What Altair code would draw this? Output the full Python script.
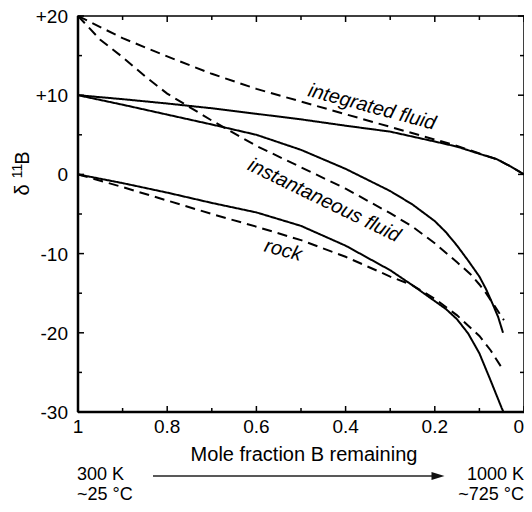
import altair as alt
import pandas as pd

# ---- data ----
# integrated fluid
int_solid_x = [1.0, 0.9, 0.8, 0.7, 0.6, 0.5, 0.4, 0.3, 0.2, 0.15, 0.1, 0.06, 0.03, 0.0]
int_solid_y = [10, 9.5, 8.95, 8.35, 7.65, 6.95, 6.15, 5.4, 4.15, 3.5, 2.6, 1.9, 1.0, 0]
int_dash_x = [1.0, 0.9, 0.8, 0.7, 0.6, 0.5, 0.4, 0.3, 0.2, 0.15, 0.1, 0.06, 0.03, 0.0]
int_dash_y = [20, 17.2, 14.9, 12.7, 10.8, 9.2, 7.6, 6.0, 4.4, 3.6, 2.65, 1.9, 1.0, 0]
# instantaneous fluid
ins_solid_x = [1.0, 0.9, 0.8, 0.7, 0.6, 0.5, 0.4, 0.3, 0.25, 0.2, 0.175, 0.15, 0.125,
               0.1, 0.085, 0.07, 0.058, 0.047]
ins_solid_y = [10, 8.8, 7.55, 6.3, 5.0, 3.1, 0.7, -2.1, -3.8, -5.9, -7.3, -9.0, -10.9,
               -12.9, -14.5, -16.4, -18.0, -20.0]
ins_dash_x = [1.0, 0.95, 0.9, 0.85, 0.8, 0.7, 0.6, 0.5, 0.4, 0.3, 0.25, 0.2, 0.15, 0.12,
              0.1, 0.085, 0.065, 0.045]
ins_dash_y = [20, 17.0, 14.8, 12.4, 10.2, 6.8, 3.6, 0.9, -1.8, -4.9, -6.6, -8.7, -11.1,
              -12.6, -13.9, -15.0, -16.7, -18.4]
# rock
rock_solid_x = [1.0, 0.9, 0.8, 0.7, 0.6, 0.5, 0.4, 0.3, 0.25, 0.2, 0.175, 0.15, 0.125,
                0.1, 0.075, 0.05, 0.046]
rock_solid_y = [0, -1.1, -2.3, -3.6, -4.8, -6.5, -9.0, -12.1, -14.0, -16.0, -17.0, -18.3,
                -20.1, -22.6, -26.0, -29.5, -30.0]
rock_dash_x = [1.0, 0.9, 0.8, 0.7, 0.6, 0.5, 0.4, 0.3, 0.25, 0.2, 0.15, 0.1, 0.075, 0.05]
rock_dash_y = [0, -1.6, -3.3, -5.0, -6.6, -8.3, -10.4, -12.9, -14.0, -15.7, -17.8, -20.4,
               -22.2, -24.4]

curve_labels = ["integrated fluid", "instantaneous fluid", "rock"]
curve_label_x = [0.341, 0.448, 0.540]
curve_label_y = [8.5, -3.3, -9.6]
curve_label_angle = [15, 26, 15]

x_label_values = [1, 0.8, 0.6, 0.4, 0.2]
x_label_text = ["1", "0.8", "0.6", "0.4", "0.2"]
x_last_value = [0]
x_last_text = ["0"]
y_label_values = [20, 10, 0, -10, -20, -30]
y_label_text = ["+20", "+10", "0", "-10", "-20", "-30"]
x_major_ticks = [0, 0.2, 0.4, 0.6, 0.8, 1.0]
x_minor_ticks = [0.1, 0.3, 0.5, 0.7, 0.9]
y_major_ticks = [-30, -20, -10, 0, 10, 20]
y_minor_ticks = [-25, -15, -5, 5, 15]

y_title_parts = ["δ", "11", "B"]
x_title = "Mole fraction B remaining"
annot_left = ["300 K", "~25 °C"]
annot_right = ["1000 K", "~725 °C"]

# ---- build tables ----
rows = []
for name, style, xs, ys in [
    ("integrated", "solid", int_solid_x, int_solid_y),
    ("integrated", "dashed", int_dash_x, int_dash_y),
    ("instantaneous", "solid", ins_solid_x, ins_solid_y),
    ("instantaneous", "dashed", ins_dash_x, ins_dash_y),
    ("rock", "solid", rock_solid_x, rock_solid_y),
    ("rock", "dashed", rock_dash_x, rock_dash_y),
]:
    for xv, yv in zip(xs, ys):
        rows.append({"x": xv, "y": yv, "key": name + "-" + style, "style": style})
df_lines = pd.DataFrame(rows)

df_labels = pd.DataFrame({"t": curve_labels, "x": curve_label_x, "y": curve_label_y,
                          "a": curve_label_angle})
df_xlab = pd.DataFrame({"v": x_label_values, "t": x_label_text})
df_xlast = pd.DataFrame({"v": x_last_value, "t": x_last_text})
df_ylab = pd.DataFrame({"v": y_label_values, "t": y_label_text})

W, H = 446, 396
FONT = "Liberation Sans"

x_scale = alt.Scale(domain=[0, 1], reverse=True, nice=False, zero=False)
y_scale = alt.Scale(domain=[-30, 20], nice=False, zero=False)

lines = alt.Chart(df_lines).mark_line(strokeWidth=2, color="black", clip=True).encode(
    x=alt.X("x:Q", scale=x_scale, axis=None),
    y=alt.Y("y:Q", scale=y_scale, axis=None),
    detail="key:N",
    strokeDash=alt.StrokeDash("style:N", legend=None,
                              scale=alt.Scale(domain=["solid", "dashed"],
                                              range=[[1, 0], [10, 6]])),
)

labels = alt.Chart(df_labels).mark_text(font=FONT, fontSize=20, fontStyle="italic",
                                         color="black", align="center",
                                         baseline="middle").encode(
    x=alt.X("x:Q", scale=x_scale, axis=None),
    y=alt.Y("y:Q", scale=y_scale, axis=None),
    text="t:N",
    angle=alt.Angle("a:Q", scale=None),
)

xlabels = alt.Chart(df_xlab).mark_text(font=FONT, fontSize=19, color="black",
                                        align="center", baseline="alphabetic").encode(
    x=alt.X("v:Q", scale=x_scale, axis=None), y=alt.value(417), text="t:N")
xlast = alt.Chart(df_xlast).mark_text(font=FONT, fontSize=19, color="black",
                                       align="right", baseline="alphabetic").encode(
    x=alt.X("v:Q", scale=x_scale, axis=None), y=alt.value(417), text="t:N")

ylabels = alt.Chart(df_ylab).mark_text(font=FONT, fontSize=19, color="black",
                                        align="right", baseline="alphabetic", dy=7).encode(
    y=alt.Y("v:Q", scale=y_scale, axis=None), x=alt.value(-10), text="t:N")


def xticks(vals, length, top):
    d = pd.DataFrame({"v": vals})
    if top:
        yy, yy2 = 0, length
    else:
        yy, yy2 = H, H - length
    return alt.Chart(d).mark_rule(color="black", strokeWidth=1.5).encode(
        x=alt.X("v:Q", scale=x_scale, axis=None), y=alt.value(yy), y2=alt.value(yy2))


def yticks(vals, length, right):
    d = pd.DataFrame({"v": vals})
    if right:
        xx, xx2 = W, W - length
    else:
        xx, xx2 = 0, length
    return alt.Chart(d).mark_rule(color="black", strokeWidth=1.5).encode(
        y=alt.Y("v:Q", scale=y_scale, axis=None), x=alt.value(xx), x2=alt.value(xx2))


ticks = [
    xticks(x_major_ticks, 6, False), xticks(x_minor_ticks, 4, False),
    xticks(x_major_ticks, 6, True), xticks(x_minor_ticks, 4, True),
    yticks(y_major_ticks, 6, False), yticks(y_minor_ticks, 4, False),
    yticks(y_major_ticks, 6, True), yticks(y_minor_ticks, 4, True),
]

one = pd.DataFrame({"a": [0]})

left_domain = alt.Chart(one).mark_rule(color="black", strokeWidth=2.5).encode(
    x=alt.value(0), y=alt.value(0), y2=alt.value(H))
bottom_domain = alt.Chart(one).mark_rule(color="black", strokeWidth=2.5).encode(
    x=alt.value(0), x2=alt.value(W), y=alt.value(H))


def note(text, x, y, align="left", angle=0, size=20):
    kw = dict(text=text, font=FONT, fontSize=size, color="black", align=align,
              baseline="alphabetic")
    if angle:
        kw.update(angle=angle)
    return alt.Chart(one).mark_text(**kw).encode(x=alt.value(x), y=alt.value(y))


notes = [
    note(y_title_parts[0], -49, 174, align="center", angle=270),
    note(y_title_parts[1], -56, 155, align="center", angle=270, size=14),
    note(y_title_parts[2], -49, 142, align="center", angle=270),
    note(x_title, 226, 445, align="center"),
    note(annot_left[0], -1, 464, size=18),
    note(annot_left[1], -1, 484, size=18),
    note(annot_right[0], 446, 464, align="right", size=18),
    note(annot_right[1], 446, 484, align="right", size=18),
]

arrow_line = alt.Chart(one).mark_rule(color="#222222", strokeWidth=1.3).encode(
    x=alt.value(75), x2=alt.value(356), y=alt.value(460))
arrow_head = alt.Chart(one).mark_point(
    shape="M-1,-0.6L1,0L-1,0.6Z", filled=True, color="#111111", opacity=1, size=169
).encode(x=alt.value(360), y=alt.value(460))

chart = alt.layer(lines, labels, xlabels, xlast, ylabels, *ticks, left_domain,
                  bottom_domain, *notes, arrow_line, arrow_head).properties(
    width=W, height=H,
    padding={"left": 70, "top": 8, "right": 0, "bottom": 92},
    autosize=alt.AutoSizeParams(type="none"),
    background="white",
).configure_view(stroke="black", strokeWidth=1.5)

chart.save("out.html", embed_options={"renderer": "svg", "actions": False})
